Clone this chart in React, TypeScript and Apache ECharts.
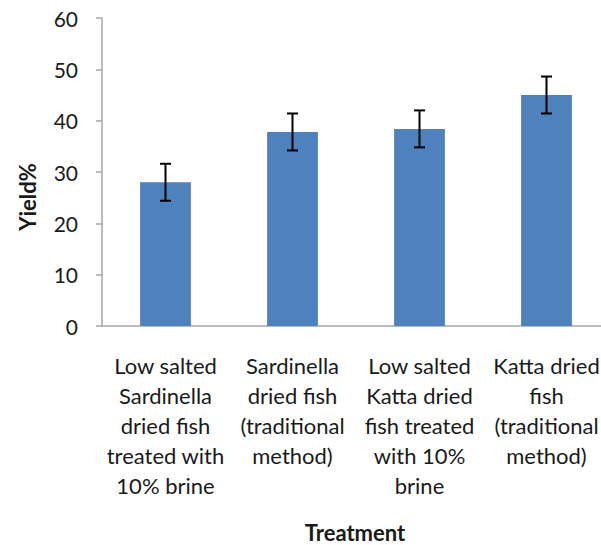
import React, { useEffect, useRef } from "react";
import * as echarts from "echarts";

const categories = [
  "Low salted\nSardinella\ndried fish\ntreated with\n10% brine",
  "Sardinella\ndried fish\n(traditional\nmethod)",
  "Low salted\nKatta dried\nfish treated\nwith 10%\nbrine",
  "Katta dried\nfish\n(traditional\nmethod)",
];
const yieldValues = [28.0, 37.8, 38.4, 45.0];
const errorValues = [3.6, 3.6, 3.6, 3.6];
const yTicks = { min: 0, max: 60, interval: 10 };

const FONT = "Lato, 'Liberation Sans', sans-serif";

export default function App() {
  const ref = useRef<HTMLDivElement>(null);
  useEffect(() => {
    if (!ref.current) return;
    const chart = echarts.init(ref.current, null, { renderer: "svg" });
    const errData = yieldValues.map((v, i) => [i, v - errorValues[i], v + errorValues[i]]);
    chart.setOption({
      animation: false,
      backgroundColor: "#ffffff",
      textStyle: { fontFamily: FONT },
      grid: { left: 102, top: 18, right: 2, bottom: 219 },
      xAxis: {
        type: "category",
        data: categories,
        axisLine: { show: true, lineStyle: { color: "#a6a6a6", width: 1.5 } },
        axisTick: { show: false },
        axisLabel: {
          interval: 0,
          margin: 24,
          color: "#1a1a1a",
          fontSize: 22,
          lineHeight: 30,
          fontFamily: FONT,
        },
      },
      yAxis: {
        type: "value",
        min: yTicks.min,
        max: yTicks.max,
        interval: yTicks.interval,
        splitLine: { show: false },
        axisLine: { show: true, lineStyle: { color: "#a6a6a6", width: 1.5 } },
        axisTick: { show: true, length: 6, lineStyle: { color: "#a6a6a6", width: 1.5 } },
        axisLabel: { color: "#1a1a1a", fontSize: 21, margin: 24, fontFamily: FONT },
      },
      graphic: [
        {
          type: "text",
          x: 27,
          y: 197,
          rotation: Math.PI / 2,
          style: {
            text: "Yield%",
            font: `bold 22px ${FONT}`,
            fill: "#1a1a1a",
            align: "center",
            verticalAlign: "middle",
          },
        },
        {
          type: "text",
          x: 355,
          y: 532,
          style: {
            text: "Treatment",
            font: `bold 22px ${FONT}`,
            fill: "#1a1a1a",
            align: "center",
            verticalAlign: "middle",
          },
        },
      ],
      series: [
        {
          type: "bar",
          data: yieldValues,
          barWidth: "40%",
          itemStyle: { color: "#4f81bd" },
        },
        {
          type: "custom",
          data: errData,
          z: 10,
          renderItem: (params: any, api: any) => {
            const x = api.value(0);
            const lo = api.coord([x, api.value(1)]);
            const hi = api.coord([x, api.value(2)]);
            const half = 5.5;
            const style = { stroke: "#000000", lineWidth: 2 };
            return {
              type: "group",
              children: [
                { type: "line", shape: { x1: lo[0], y1: lo[1], x2: hi[0], y2: hi[1] }, style },
                { type: "line", shape: { x1: hi[0] - half, y1: hi[1], x2: hi[0] + half, y2: hi[1] }, style },
                { type: "line", shape: { x1: lo[0] - half, y1: lo[1], x2: lo[0] + half, y2: lo[1] }, style },
              ],
            };
          },
        },
      ],
    });
    return () => chart.dispose();
  }, []);
  return (
    <div
      style={{
        position: "absolute",
        left: 0,
        top: 0,
        width: 601,
        height: 545,
        overflow: "hidden",
      }}
    >
      <div ref={ref} style={{ width: 612, height: 545 }} />
    </div>
  );
}
